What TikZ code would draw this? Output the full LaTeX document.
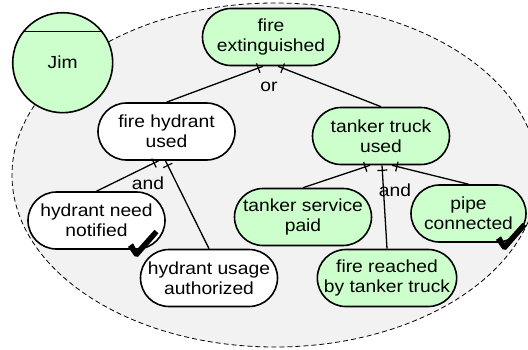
\documentclass[tikz,border=0pt]{standalone}
\usepackage{fontspec}
\setmainfont[FakeStretch=1.1]{Liberation Sans}
\usetikzlibrary{shapes.misc, decorations.markings}

\definecolor{goalgreen}{HTML}{CCFFCC}
\definecolor{actorgray}{HTML}{F2F2F2}

\tikzset{
	goal/.style={rounded rectangle, draw, line width=1.6pt, fill=goalgreen,
		minimum width=137pt, minimum height=57pt, inner xsep=0pt, align=center,
		font=\fontsize{17.5}{20}\selectfont},
	opengoal/.style={goal, fill=white},
	actor/.style={circle, draw, line width=1.6pt, fill=goalgreen, minimum size=100pt,
		font=\fontsize{17.5}{20}\selectfont},
	boundary/.style={draw, dash pattern=on 5pt off 3pt, line width=0.8pt, fill=actorgray},
	decomp/.style={font=\fontsize{17.5}{20}\selectfont, inner sep=0pt},
	link/.style={line width=1.3pt, postaction={decorate, decoration={markings,
		mark=at position -5pt with {\draw[line width=1.2pt] (0,-5pt) -- (0,5pt);}}}},
	donemark/.pic={\fill (-7,-8) -- (-2,-11.5) -- (1.5,-5) -- (19.5,-25) -- (23.5,-21.5) -- (3,2) -- (-0.5,1.5) -- cycle;},
}

\begin{document}
\begin{tikzpicture}[x=1pt,y=-1pt]
	\useasboundingbox (0,0) rectangle (528,349);
	\clip (0,0) rectangle (528,349);
	% actor boundary
	\path[boundary] (275,175) ellipse [x radius=263, y radius=172];
	\node[actor] (jim) at (62.7,62.7) {Jim};
	\draw[line width=1.6pt] (jim.142) -- (jim.38);

	% goals
	\node[goal] (extinguished) at (271,37) {fire\\extinguished};
	\node[opengoal] (hydrant) at (166.5,131.5) {fire hydrant\\used};
	\node[goal] (tanker) at (381,136) {tanker truck\\used};
	\node[opengoal] (notified) at (96.5,220.5) {hydrant need\\notified};
	\node[opengoal] (authorized) at (209,278) {hydrant usage\\authorized};
	\node[goal] (paid) at (303,217) {tanker service\\paid};
	\node[goal, minimum width=115pt] (piped) at (468.5,213.5) {pipe\\connected};
	\node[goal] (reached) at (387,278) {fire reached\\by tanker truck};

	% refinements
	\draw[link] (hydrant.north) -- ([xshift=-8pt]extinguished.south);
	\draw[link] (tanker.north) -- ([xshift=7pt]extinguished.south);
	\node[decomp] (orlabel) at (269,87) {or};
	\draw[link] (notified.north) -- ([xshift=-8pt]hydrant.south);
	\draw[link] (authorized.north) -- ([xshift=-1pt]hydrant.south);
	\node[decomp] (andhydrant) at (148,183) {and};
	\draw[link] (paid.north) -- ([xshift=-11pt]tanker.south);
	\draw[link] (reached.north) -- ([xshift=1pt]tanker.south);
	\draw[link] (piped.north) -- ([xshift=11pt]tanker.south);
	\node[decomp] (andtanker) at (395,190) {and};

	% achieved goals
	\pic at ([shift={(38.5,5)}]notified.south) {donemark};
	\pic at ([shift={(34.5,5)}]piped.south) {donemark};
\end{tikzpicture}
\end{document}
